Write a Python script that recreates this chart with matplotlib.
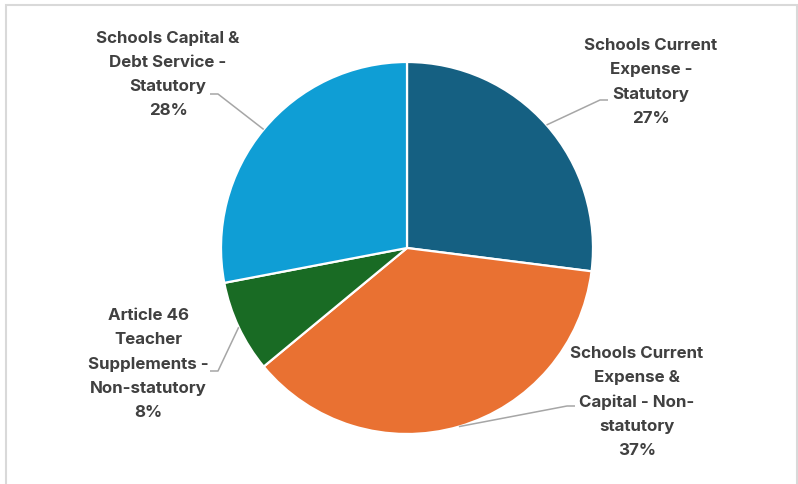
import matplotlib
matplotlib.use("Agg")
import matplotlib.pyplot as plt
from matplotlib.patches import Rectangle
import numpy as np

labels = [
    "Schools Current\nExpense -\nStatutory",
    "Schools Current\nExpense &\nCapital - Non-\nstatutory",
    "Article 46\nTeacher\nSupplements -\nNon-statutory",
    "Schools Capital &\nDebt Service -\nStatutory",
]
values = [27, 37, 8, 28]
colors = ["#156082", "#E97132", "#196B24", "#0F9ED5"]

W, H = 798, 484
fig = plt.figure(figsize=(W / 100, H / 100), dpi=100)
ax = fig.add_axes([0, 0, 1, 1])

cx, cy, r = 407, H - 248, 186
wedges, _ = ax.pie(values, colors=colors, startangle=90, counterclock=False,
                   center=(cx, cy), radius=r,
                   wedgeprops=dict(edgecolor="white", linewidth=1.6))
ax.set_xlim(0, W)
ax.set_ylim(0, H)
ax.set_aspect("equal")
ax.axis("off")

# label positions (pixel, top-origin) and elbow points
label_pos = [(651, 82), (637, 402), (148, 364), (168, 74)]
elbows = [((600, 100), (608, 100)), ((567, 406), (575, 406)),
          ((218, 371), (210, 371)), ((218, 94), (210, 94))]

txtcolor = "#404040"
for w, lab, v, (lx, ly), (e1, e2) in zip(wedges, labels, values, label_pos, elbows):
    ang = np.deg2rad((w.theta1 + w.theta2) / 2)
    sx, sy = cx + r * np.cos(ang), cy + r * np.sin(ang)
    ax.plot([sx, e1[0], e2[0]], [sy, H - e1[1], H - e2[1]],
            color="#A6A6A6", lw=1.1, solid_capstyle="butt", zorder=1)
    ax.text(lx, H - ly, f"{lab}\n{v}%", ha="center", va="center",
            fontsize=12.2, fontweight="bold", color=txtcolor,
            family=["Inter", "DejaVu Sans"], linespacing=1.76)

fig.patches.append(Rectangle((5.5 / W, -0.01), (797 - 5.5) / W, 1 - 5.5 / H + 0.01,
                             transform=fig.transFigure, fill=False,
                             edgecolor="#D9D9D9", lw=1.5))

fig.savefig("out.png", dpi=100)
